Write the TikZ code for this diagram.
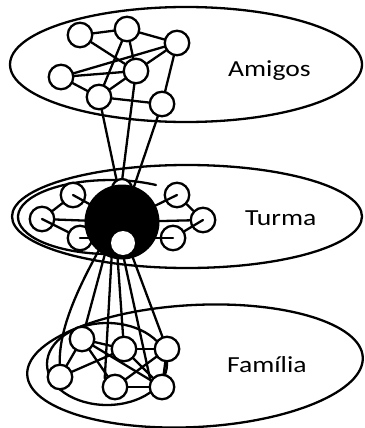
\documentclass[tikz,border=0pt]{standalone}
\usepackage{fontspec}
\setmainfont{Carlito}
\pgfdeclarelayer{bg}
\pgfdeclarelayer{spk}
\pgfdeclarelayer{fg}
\pgfsetlayers{bg,main,spk,fg}
\begin{document}
\begin{tikzpicture}[x=1pt,y=-1pt,
  ink/.style={line width=2.3pt,line cap=round},
  member/.style={ink,circle,draw,fill=white,inner sep=0pt,minimum size=24.5pt},
  hubdot/.style={circle,fill=black,inner sep=0pt,minimum size=75pt},
  coredot/.style={circle,fill=white,inner sep=0pt,minimum size=24pt},
  tag/.style={anchor=base west,inner sep=0pt,font=\fontsize{23}{27}\selectfont}]
\useasboundingbox (0,0) rectangle (364,428);

% central hub with its white core
\begin{pgfonlayer}{fg}
  \node[hubdot] (hub) at (122,222) {};
  \node[coredot] (core) at (123,243) {};
\end{pgfonlayer}

% Amigos
\node[member] (a1) at (80,35) {};
\node[member] (a2) at (127,29) {};
\node[member] (a3) at (177,43) {};
\node[member] (a4) at (61,77) {};
\node[member] (a5) at (136,71) {};
\node[member] (a6) at (99,97) {};
\node[member] (a7) at (162,104) {};

% Turma
\node[member] (t1) at (73,195) {};
\node[member] (t2) at (42,219) {};
\node[member] (t3) at (80,238) {};
\node[member] (t4) at (177,195) {};
\node[member] (t5) at (203,220) {};
\node[member] (t6) at (173,238) {};
\node[member,minimum size=20pt] (bump) at (122,189) {};

% Familia
\node[member] (f1) at (82,339) {};
\node[member] (f2) at (124,349) {};
\node[member] (f3) at (167,349) {};
\node[member] (f4) at (60,377) {};
\node[member] (f5) at (115,387) {};
\node[member] (f6) at (162,387) {};

% start points of the ties leaving the hub downwards
\coordinate (h1) at (99,250);
\coordinate (h2) at (106,250);
\coordinate (h3) at (112,250);
\coordinate (h4) at (117,250);
\coordinate (h5) at (122,250);
\coordinate (h6) at (130,250);

\begin{pgfonlayer}{bg}
\begin{scope}[ink]
  % group outlines
  \draw (186,64.5) ellipse [x radius=176pt,y radius=57.5pt];
  \draw (187,216.5) ellipse [x radius=175pt,y radius=51.5pt];
  \draw (156,185) arc[start angle=60,end angle=290,x radius=92pt,y radius=37pt];
  \draw[rotate around={3:(195,366)}] (195,366) ellipse [x radius=168pt,y radius=61pt];
  \draw (107,364) ellipse [x radius=60pt,y radius=41pt];

  % ties inside Amigos
  \draw (a1.center) -- (a2.center);
  \draw (a2.center) -- (a3.center);
  \draw (a1.center) -- (a5.center);
  \draw (a2.center) -- (a6.center);
  \draw (a2.center) -- (a5.center);
  \draw (a4.center) -- (a3.center);
  \draw (a4.center) -- (a5.center);
  \draw (a3.center) -- (a5.center);
  \draw (a3.center) -- (a7.center);
  \draw (a4.center) -- (a6.center);
  \draw (a6.center) -- (a5.center);
  \draw (a6.center) -- (a7.center);

  % Amigos down to the hub
  \draw (a6.center) -- (bump.120);
  \draw (a5.center) -- (bump.88);
  \draw (a7.center) -- (hub.center);

  % ties inside Turma
  \draw (t1.center) -- (t2.center);
  \draw (t2.center) -- (hub.center);
  \draw (t4.center) -- (t5.center);
  \draw (t5.center) -- (hub.center);

  % hub down to Familia
  \draw (h1) .. controls (76,292) and (59,330) .. (f4);
  \draw (h2) -- (f1);
  \draw (h3) -- (f5.140);
  \draw (h4) -- (f2);
  \draw (h5) -- (f6.150);
  \draw (h6) -- (f3);

  % ties inside Familia
  \draw (f1.center) -- (f4.center);
  \draw (f1.center) -- (f2.center);
  \draw (f1.center) -- (f5.center);
  \draw (f1.center) -- (f6.center);
  \draw (f4.center) -- (f2.center);
  \draw (f2.center) -- (f3.center);
  \draw (f2.center) -- (f6.center);
  \draw (f3.center) -- (f5.center);
  \draw (f5.center) -- (f6.center);
  \draw (f3.center) -- (f6.center);
\end{scope}
\end{pgfonlayer}

% spokes drawn over the Turma members
\begin{pgfonlayer}{spk}
\begin{scope}[ink]
  \draw (t1.center) -- (hub.center);
  \draw (t2.center) -- (t3);
  \draw (t3.center) -- (t3.center -| hub.center);
  \draw (t4.center) -- (hub.center);
  \draw (t5.center) -- (t6);
  \draw (t6.center) -- (t6.center -| hub.center);
\end{scope}
\end{pgfonlayer}

% group names
\node[tag] (amigos) at (228,76) {\scalebox{1.2}[1]{Amigos}};
\node[tag] (turma) at (245,225) {\scalebox{1.2}[1]{Turma}};
\node[tag] (familia) at (227,372) {\scalebox{1.2}[1]{Família}};
\end{tikzpicture}
\end{document}
